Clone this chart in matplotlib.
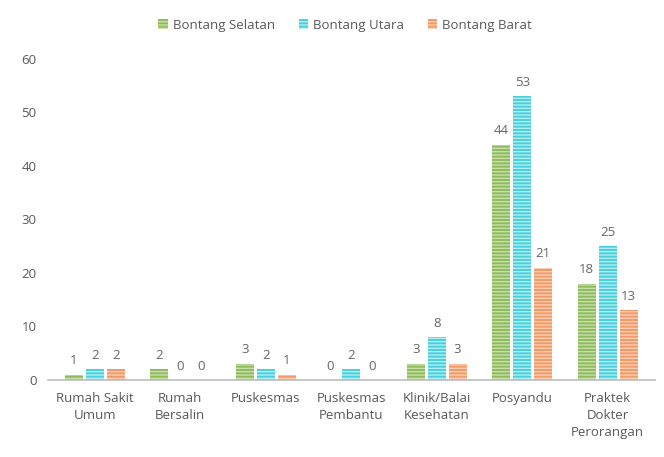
import matplotlib
matplotlib.use("Agg")
import matplotlib.pyplot as plt
import numpy as np

categories = ["Rumah Sakit\nUmum", "Rumah\nBersalin", "Puskesmas", "Puskesmas\nPembantu",
              "Klinik/Balai\nKesehatan", "Posyandu", "Praktek\nDokter\nPerorangan"]
series_names = ["Bontang Selatan", "Bontang Utara", "Bontang Barat"]
selatan = [1, 2, 3, 0, 3, 44, 18]
utara = [2, 0, 2, 2, 8, 53, 25]
barat = [2, 0, 1, 0, 3, 21, 13]

colors = ["#8dbb5e", "#4ccfdc", "#f29a68"]
hatch_colors = ["#c9e0a8", "#b0eef2", "#f9cfb4"]

plt.rcParams['font.family'] = ['Open Sans', 'DejaVu Sans']
plt.rcParams['hatch.linewidth'] = 1.0

fig = plt.figure(figsize=(6.64, 4.57), dpi=100)
ax = fig.add_axes([0.072, 0.1685, 0.914, 0.7025])

x = np.arange(len(categories))
w = 0.21
step = 0.245
for i, (vals, name) in enumerate(zip([selatan, utara, barat], series_names)):
    pos = x + (i - 1) * step
    ax.bar(pos, vals, width=w, color=colors[i], edgecolor=hatch_colors[i],
           hatch='-----', linewidth=0, label=name)
    for p, v in zip(pos, vals):
        ax.text(p, v + 1.4, str(v), ha='center', va='bottom', fontsize=9.5, color='#666666')

ax.set_ylim(0, 60)
ax.set_xlim(-0.55, len(categories) - 0.45)
ax.set_yticks(range(0, 61, 10))
ax.set_xticks(x)
ax.set_xticklabels(categories, fontsize=9.5, color='#595959', linespacing=1.4)
ax.tick_params(axis='y', labelsize=9.5, colors='#595959', length=0, pad=8)
ax.tick_params(axis='x', length=0, pad=9)
for s in ['top', 'right', 'left']:
    ax.spines[s].set_visible(False)
ax.spines['bottom'].set_color('#bfbfbf')
ax.spines['bottom'].set_linewidth(1.2)

leg = fig.legend(loc='upper center', bbox_to_anchor=(0.52, 0.985), ncol=3, frameon=False,
                 fontsize=9.5, handlelength=0.7, handleheight=0.7, columnspacing=1.8,
                 handletextpad=0.4)
for t in leg.get_texts():
    t.set_color('#595959')

fig.savefig("out.png", dpi=100)
